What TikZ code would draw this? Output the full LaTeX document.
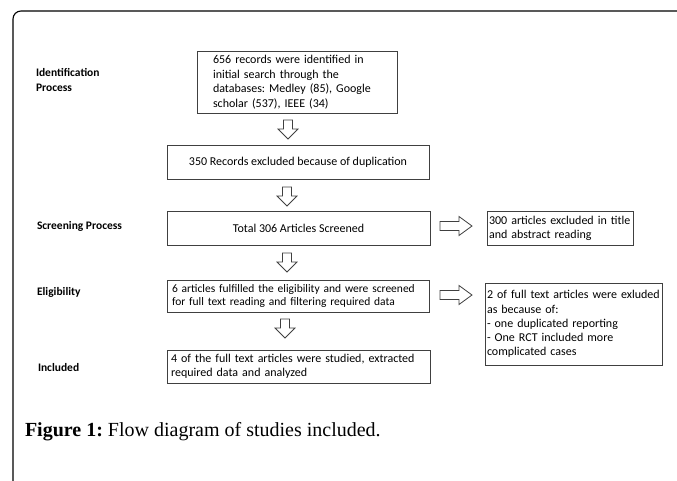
\documentclass[tikz,border=0pt]{standalone}
\usepackage{fontspec}
\setmainfont{Liberation Serif}
\newfontfamily\boxfont{Carlito}
\frenchspacing
\begin{document}
\begin{tikzpicture}[x=1pt,y=-1pt,
  every node/.style={inner sep=0pt, outer sep=0pt},
  flowbox/.style={draw=black!75, line width=0.8pt, font=\boxfont\fontsize{12}{14.5}\selectfont, anchor=center},
  smallbox/.style={draw=black!75, line width=0.8pt, font=\boxfont\fontsize{12}{14.2}\selectfont, anchor=center},
  stagelabel/.style={font=\boxfont\bfseries\fontsize{11.5}{15}\selectfont, anchor=west, align=left},
  blockarrow/.style={draw=black!75, line width=0.8pt, fill=white},
  downarrow/.pic={\draw[blockarrow] (-4.5,0) -- (-4.5,9) -- (-10,9) -- (0,19) -- (10,9) -- (4.5,9) -- (4.5,0) -- cycle;},
  rightarrow/.pic={\draw[blockarrow] (0,-4.5) -- (19,-4.5) -- (19,-9.5) -- (32,0) -- (19,9.5) -- (19,4.5) -- (0,4.5) -- cycle;}
]
\useasboundingbox (0,0) rectangle (677,480);
% frame
\draw[line width=1.1pt, rounded corners=8pt] (13,482) -- (13,11) -- (680,11);

% stage labels
\node[stagelabel] (lid) at (36,80) {Identification\\Process};
\node[stagelabel] (lsc) at (37,226) {Screening Process};
\node[stagelabel] (lel) at (37,292) {Eligibility};
\node[stagelabel] (lin) at (38,367) {Included};

% main boxes
\node[flowbox, minimum width=200pt, minimum height=62pt, text width=168pt, align=left] (b1) at (297,82)
  {656 records were identified in\\initial search through the\\databases: Medley (85), Google\\scholar (537), IEEE (34)};
\node[flowbox, minimum width=262pt, minimum height=34pt] (b2) at (298,162)
  {350 Records excluded because of duplication};
\node[flowbox, minimum width=263pt, minimum height=34pt] (b3) at (298.5,228)
  {Total 306 Articles Screened};
\node[smallbox, font=\boxfont\fontsize{11.5}{13.5}\selectfont, minimum width=262pt, minimum height=32pt, text width=252pt, align=left] (b4) at (298,296)
  {6 articles fulfilled the eligibility and were screened\\for full text reading and filtering required data};
\node[smallbox, minimum width=263pt, minimum height=33pt, text width=255pt, align=left] (b5) at (298.5,366.5)
  {4 of the full text articles were studied, extracted\\required data and analyzed};

% side boxes
\node[smallbox, minimum width=146pt, minimum height=34pt, text width=142pt, align=left] (r1) at (560,228)
  {300 articles excluded in title\\and abstract reading};
\node[smallbox, minimum width=177pt, minimum height=82pt, text width=173pt, align=left] (r2) at (573.5,324)
  {2 of full text articles were exluded\\as because of:\\- one duplicated reporting\\- One RCT included more\\complicated cases};

% block arrows
\pic at (288,120) {downarrow};
\pic at (287,187) {downarrow};
\pic at (287,253) {downarrow};
\pic at (285,319) {downarrow};
\pic at (440,226) {rightarrow};
\pic at (440,295) {rightarrow};

% caption
\node[anchor=west, font=\fontsize{20}{24}\selectfont] (cap) at (25,432)
  {\textbf{Figure 1:} Flow diagram of studies included.};
\end{tikzpicture}
\end{document}
